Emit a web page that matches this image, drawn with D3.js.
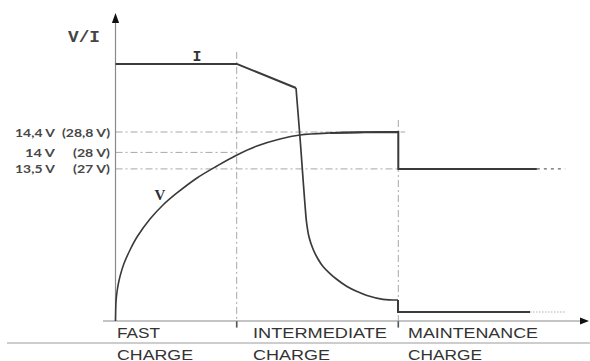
<!DOCTYPE html>
<html><head><meta charset="utf-8">
<script src="https://cdn.jsdelivr.net/npm/d3@7"></script>
<style>html,body{margin:0;padding:0;background:#fff;}svg{display:block;}</style>
</head><body>
<svg id="chart" width="590" height="361"></svg>
<script>
// ---- data (schematic charge curve, time units / relative level 0-100) ----
const phaseNames = ["FAST", "INTERMEDIATE", "MAINTENANCE"];
const phaseLine2 = ["CHARGE", "CHARGE", "CHARGE"];
const phaseStarts = [0, 3, 7];
const timeEnd = 11.15;

const levelTicks = [63, 56.2, 50.7];
const tickLabelsV12 = ["14,4 V", "14 V", "13,5 V"];
const tickLabelsV24 = ["(28,8 V)", "(28 V)", "(27 V)"];
const tickGuideEnd = [7.17, 3.0, 7.0];

const currentConstT = [0, 3, 4.468];
const currentConstI = [85.7, 85.7, 77.67];
const currentDecayT = [4.468, 4.579, 4.653, 4.691, 4.728, 4.79, 4.889, 5.012, 5.136, 5.309, 5.483, 5.73, 5.978, 6.225, 6.621, 6.993];
const currentDecayI = [77.67, 59, 45.33, 38.67, 33, 28, 24, 20.67, 18.17, 15.83, 13.83, 11.5, 9.83, 8.5, 7.23, 7.0];
const currentFloatT = [6.993, 6.993, 10.26, 11.13];
const currentFloatI = [7.0, 3.0, 3.0, 3.0];

const voltageT = [0, 0.0124, 0.0371, 0.0743, 0.124, 0.21, 0.359, 0.532, 0.854, 1.176, 1.522, 2.017, 2.512, 3.007, 3.502, 4.072, 4.567, 5.309, 6.176, 7.0];
const voltageV = [0, 6.33, 9.67, 12.67, 15.5, 19.17, 23.67, 28, 34, 38.67, 42.67, 47.67, 51.67, 55.33, 58.33, 60.67, 62, 62.67, 62.9, 63];
const voltageFloatT = [7.0, 7.0, 10.43, 11.13];
const voltageFloatV = [63, 50.7, 50.7, 50.7];

// ---- scales ----
const svg = d3.select("#chart");
const x = d3.scaleLinear().domain([0, timeEnd]).range([115.5, 115.5 + 40.4 * timeEnd]);
const y = d3.scaleLinear().domain([0, 100]).range([321, 21]);

const axisCol = "#8a8a8a", guideCol = "#a8a8a8", lineCol = "#3a3a3a";

// bottom separator line
svg.append("line").attr("x1", 7).attr("x2", 590).attr("y1", 343).attr("y2", 343)
  .attr("stroke", "#bdbdbd").attr("stroke-width", 1.6);

// guides: horizontal level lines
levelTicks.forEach((lv, i) => {
  svg.append("line").attr("x1", x(0)).attr("x2", x(tickGuideEnd[i]))
    .attr("y1", y(lv)).attr("y2", y(lv))
    .attr("stroke", guideCol).attr("stroke-width", 1).attr("stroke-dasharray", "7,3,2,3");
});
// guides: vertical phase boundaries
const vTop = [null, 89.7, 67];
[1, 2].forEach(i => {
  svg.append("line").attr("x1", x(phaseStarts[i])).attr("x2", x(phaseStarts[i]))
    .attr("y1", y(vTop[i])).attr("y2", y(-2))
    .attr("stroke", guideCol).attr("stroke-width", 1).attr("stroke-dasharray", "7,3,2,3");
  svg.append("line").attr("x1", x(phaseStarts[i])).attr("x2", x(phaseStarts[i]))
    .attr("y1", y(0)).attr("y2", y(-2.2))
    .attr("stroke", "#555").attr("stroke-width", 1.6);
});

// axes
svg.append("line").attr("x1", x(0)).attr("x2", x(0)).attr("y1", y(0)).attr("y2", 22)
  .attr("stroke", axisCol).attr("stroke-width", 1.2);
svg.append("path").attr("d", `M${x(0)},13 L${x(0)-3.6},23 L${x(0)+3.6},23 Z`).attr("fill", "#111");
svg.append("line").attr("x1", 103).attr("x2", 582).attr("y1", y(0)).attr("y2", y(0))
  .attr("stroke", axisCol).attr("stroke-width", 1.2);
svg.append("path").attr("d", `M589,${y(0)} L580,${y(0)-3.6} L580,${y(0)+3.6} Z`).attr("fill", "#111");

// curves
const mk = (ts, vs) => ts.map((t, i) => [t, vs[i]]);
const lineCR = d3.line().x(d => x(d[0])).y(d => y(d[1])).curve(d3.curveCatmullRom.alpha(0.5));
const lineStraight = d3.line().x(d => x(d[0])).y(d => y(d[1]));

// current
svg.append("path").attr("d", lineStraight(mk(currentConstT, currentConstI))).attr("fill", "none")
  .attr("stroke", lineCol).attr("stroke-width", 2).attr("stroke-linejoin", "round");
svg.append("path").attr("d", lineCR(mk(currentDecayT, currentDecayI))).attr("fill", "none")
  .attr("stroke", lineCol).attr("stroke-width", 1.7);
const cf = mk(currentFloatT, currentFloatI);
svg.append("path").attr("d", lineStraight(cf.slice(0, 3))).attr("fill", "none")
  .attr("stroke", lineCol).attr("stroke-width", 2);
svg.append("path").attr("d", lineStraight(cf.slice(2))).attr("fill", "none")
  .attr("stroke", "#b0b0b0").attr("stroke-width", 1.2).attr("stroke-dasharray", "1.5,1.5");

// voltage
svg.append("path").attr("d", lineCR(mk(voltageT, voltageV))).attr("fill", "none")
  .attr("stroke", lineCol).attr("stroke-width", 1.6);
const vf = mk(voltageFloatT, voltageFloatV);
svg.append("path").attr("d", lineStraight([[5.309, 62.67], [6.176, 62.9]].concat(vf.slice(0, 3)))).attr("fill", "none")
  .attr("stroke", lineCol).attr("stroke-width", 2);
svg.append("path").attr("d", lineStraight(vf.slice(2))).attr("fill", "none")
  .attr("stroke", "#666").attr("stroke-width", 1.3).attr("stroke-dasharray", "3,4");

// level tick labels (two right-aligned columns)
const tickFont = "Lato, 'Noto Sans', sans-serif";
const leftEnd = 55, rightEnd = 110;
const leftW = [40, 30, 40], rightW = [48, 37, 37];
levelTicks.forEach((lv, i) => {
  const by = y(lv) + 4.5;
  svg.append("text").attr("x", leftEnd - leftW[i]).attr("y", by).text(tickLabelsV12[i])
    .attr("font-family", tickFont).attr("font-weight", 700).attr("font-size", 12)
    .attr("fill", "#474747").attr("textLength", leftW[i]).attr("lengthAdjust", "spacingAndGlyphs");
  svg.append("text").attr("x", rightEnd - rightW[i]).attr("y", by).text(tickLabelsV24[i])
    .attr("font-family", tickFont).attr("font-weight", 700).attr("font-size", 12)
    .attr("fill", "#474747").attr("textLength", rightW[i]).attr("lengthAdjust", "spacingAndGlyphs");
});

// axis title & series labels
svg.append("text").attr("x", 68).attr("y", 42).text("V/I")
  .attr("font-family", "'Liberation Mono', monospace").attr("font-weight", 700).attr("font-size", 16)
  .attr("fill", "#444").attr("textLength", 32).attr("lengthAdjust", "spacingAndGlyphs");
svg.append("text").attr("x", 197).attr("y", 61).attr("text-anchor", "middle").text("I")
  .attr("font-family", "'Liberation Mono', monospace").attr("font-weight", 700).attr("font-size", 15)
  .attr("fill", "#333");
svg.append("text").attr("x", 160).attr("y", 200).attr("text-anchor", "middle").text("V")
  .attr("font-family", "'Liberation Serif', serif").attr("font-weight", 700).attr("font-size", 15)
  .attr("fill", "#2e2e3a");

// phase labels
const w1 = [43, 134, 130], w2 = [76, 77, 74];
const phaseX = [117, 253, 408];
phaseNames.forEach((n, i) => {
  svg.append("text").attr("x", phaseX[i]).attr("y", 338).text(n)
    .attr("font-family", "'Liberation Sans', Arial, sans-serif").attr("font-size", 15)
    .attr("fill", "#333").attr("textLength", w1[i]).attr("lengthAdjust", "spacingAndGlyphs");
  svg.append("text").attr("x", phaseX[i]).attr("y", 359.5).text(phaseLine2[i])
    .attr("font-family", "'Liberation Sans', Arial, sans-serif").attr("font-size", 15)
    .attr("fill", "#333").attr("textLength", w2[i]).attr("lengthAdjust", "spacingAndGlyphs");
});
</script>
</body></html>
